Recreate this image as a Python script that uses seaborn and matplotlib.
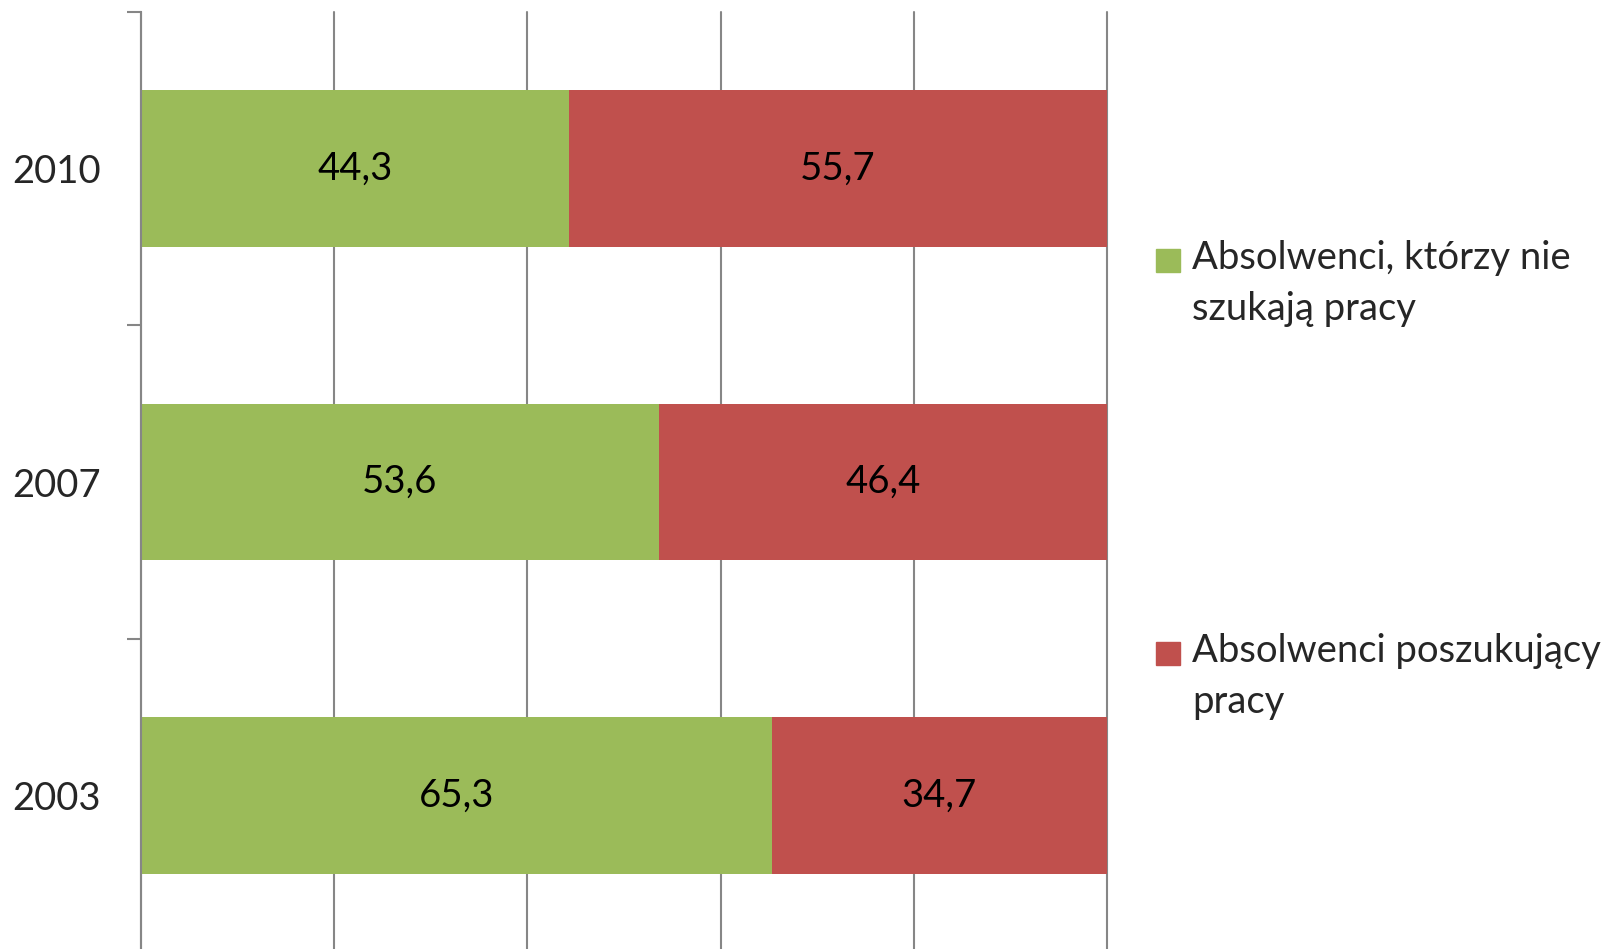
import numpy as np
import pandas as pd
import matplotlib.pyplot as plt
from matplotlib.patches import Rectangle
from matplotlib.ticker import MultipleLocator, FixedLocator
import seaborn as sns

sns.set_style('white')
plt.rcParams['font.family'] = ['Lato', 'DejaVu Sans']

# dane
years = ['2010', '2007', '2003']
nie_szukaja = [44.3, 53.6, 65.3]
poszukujacy = [55.7, 46.4, 34.7]
series_labels = ['Absolwenci, którzy nie\nszukają pracy', 'Absolwenci poszukujący\npracy']
colors = ['#9BBB59', '#C0504D']

df = pd.DataFrame({'rok': years, 'nie': nie_szukaja, 'tak': poszukujacy})
df['suma'] = df['nie'] + df['tak']

fs = 27.5

fig = plt.figure(figsize=(16.13, 9.49), dpi=100)
ax = fig.add_axes([141 / 1613, -3 / 949, 966 / 1613, 940 / 949])

# czerwony pod spodem (do 100), zielony na wierzchu
sns.barplot(data=df, x='suma', y='rok', order=years, color=colors[1], width=0.5,
            saturation=1, ax=ax, linewidth=0)
sns.barplot(data=df, x='nie', y='rok', order=years, color=colors[0], width=0.5,
            saturation=1, ax=ax, linewidth=0)

for i in range(len(years)):
    ax.text(df['nie'][i] / 2, i, f"{df['nie'][i]:.1f}".replace('.', ','),
            ha='center', va='center', fontsize=fs, color='black')
    ax.text(df['nie'][i] + df['tak'][i] / 2, i, f"{df['tak'][i]:.1f}".replace('.', ','),
            ha='center', va='center', fontsize=fs, color='black')

ax.set_xlim(0, 100)
ax.set_ylim(2.5, -0.5)
ax.xaxis.set_major_locator(MultipleLocator(20))
ax.grid(axis='x', color='#868686', linewidth=1.5)
for gl in ax.get_xgridlines():
    gl.set_clip_on(False)
ax.set_axisbelow(True)
ax.tick_params(axis='x', length=0, labelbottom=False)

ax.yaxis.set_minor_locator(FixedLocator([-0.5, 0.5, 1.5, 2.5]))
ax.tick_params(axis='y', which='major', length=0, pad=29, labelsize=fs)
ax.tick_params(axis='y', which='minor', length=10, width=1.5, color='#868686', left=True)
ax.set_xlabel('')
ax.set_ylabel('')

for s in ['top', 'right', 'bottom']:
    ax.spines[s].set_visible(False)
ax.spines['left'].set_color('#868686')
ax.spines['left'].set_linewidth(1.5)

# legenda
leg_y = [260, 653]
for lab, col, yy in zip(series_labels, colors, leg_y):
    fig.add_artist(Rectangle((1156 / 1613, 1 - (yy + 12) / 949), 24 / 1613, 23 / 949,
                             transform=fig.transFigure, color=col))
    fig.text(1192 / 1613, 1 - (yy - 20) / 949, lab, fontsize=fs, va='top', ha='left',
             linespacing=1.52)

fig.savefig('out.png', dpi=100)
